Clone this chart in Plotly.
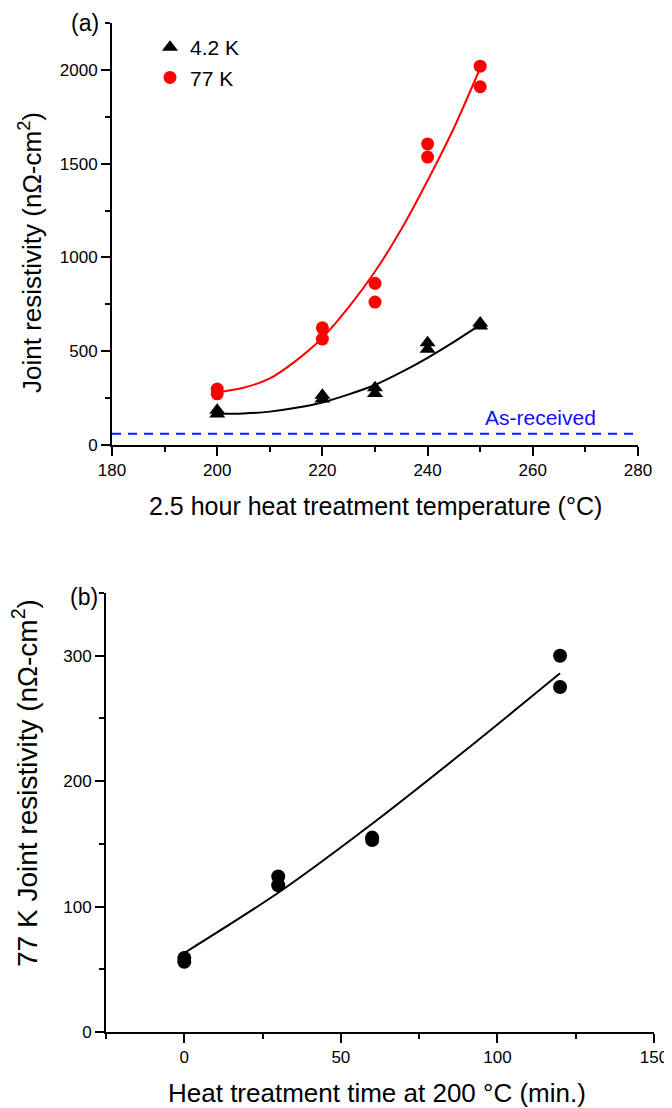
import plotly.graph_objects as go

# ---- Panel (a) data ----
temp_42 = [200, 200, 220, 220, 230, 230, 240, 240, 250, 250]
res_42 = [185, 165, 265, 245, 305, 275, 545, 510, 650, 635]
temp_77 = [200, 200, 220, 220, 230, 230, 240, 240, 250, 250]
res_77 = [298, 273, 625, 565, 862, 762, 1605, 1535, 2020, 1910]

# fitted curves
fit_temp = [200, 205, 210, 215, 220, 225, 230, 235, 240, 245, 250]
fit_42 = [166, 168, 178, 198, 227, 270, 320, 388, 465, 550, 640]
fit_77 = [280, 305, 355, 450, 572, 735, 925, 1150, 1410, 1690, 2010]

as_received_x = [180, 280]
as_received_y = [60, 60]

# ---- Panel (b) data ----
time_min = [0, 0, 30, 30, 60, 60, 120, 120]
res_b = [59, 56, 124, 117, 155, 153, 300, 275]
fit_time = [0, 30, 60, 90, 120]
fit_b = [63, 111, 166, 225, 286]

# page body has an 8px margin: size the figure to the visible area and map
# reference-pixel positions into paper coordinates
OFF = 8
W, H = 672 - OFF, 1108 - OFF
FONT = "Liberation Sans, Arial, sans-serif"


def px(x):
    return (x - OFF) / W


def py(y):
    return 1 - (y - OFF) / H


fig = go.Figure()

# panel (a) fits
fig.add_trace(go.Scatter(x=fit_temp, y=fit_77, mode="lines",
                         line=dict(color="#ff0000", width=2, shape="spline", smoothing=0.8),
                         showlegend=False, xaxis="x", yaxis="y", hoverinfo="skip"))
fig.add_trace(go.Scatter(x=fit_temp, y=fit_42, mode="lines",
                         line=dict(color="black", width=2, shape="spline", smoothing=0.8),
                         showlegend=False, xaxis="x", yaxis="y", hoverinfo="skip"))
fig.add_trace(go.Scatter(x=as_received_x, y=as_received_y, mode="lines",
                         line=dict(color="#1010ff", width=2, dash="9px,7px"),
                         showlegend=False, xaxis="x", yaxis="y", hoverinfo="skip"))
# panel (a) markers
fig.add_trace(go.Scatter(x=temp_42, y=res_42, mode="markers", name="4.2 K",
                         marker=dict(symbol="triangle-up", size=14, color="black"), xaxis="x", yaxis="y"))
fig.add_trace(go.Scatter(x=temp_77, y=res_77, mode="markers", name="77 K",
                         marker=dict(symbol="circle", size=13, color="#ff0000"), xaxis="x", yaxis="y"))

# panel (b)
fig.add_trace(go.Scatter(x=fit_time, y=fit_b, mode="lines",
                         line=dict(color="black", width=2, shape="spline", smoothing=0.8),
                         showlegend=False, xaxis="x2", yaxis="y2", hoverinfo="skip"))
fig.add_trace(go.Scatter(x=time_min, y=res_b, mode="markers", showlegend=False,
                         marker=dict(symbol="circle", size=14, color="black"), xaxis="x2", yaxis="y2"))

axis_common = dict(showline=True, linecolor="black", linewidth=2, showgrid=False, zeroline=False,
                   ticks="outside", ticklen=9, tickwidth=1.5, tickcolor="black",
                   tickfont=dict(family=FONT, size=17, color="black"), mirror=False, automargin=False)


def minor(d):
    return dict(dtick=d, ticks="outside", ticklen=5, tickwidth=1.5, tickcolor="black", showgrid=False)


fig.update_layout(
    width=W, height=H,
    margin=dict(l=0, r=0, t=0, b=0, autoexpand=False),
    paper_bgcolor="white", plot_bgcolor="white",
    font=dict(family=FONT, color="black"),
    xaxis=dict(domain=[px(112), px(638)], range=[180, 280], tick0=180, dtick=20, minor=minor(10),
               anchor="y", **axis_common),
    yaxis=dict(domain=[py(445), py(23)], range=[0, 2250], tick0=0, dtick=500, minor=minor(250),
               anchor="x", **axis_common),
    xaxis2=dict(domain=[px(106), px(654)], range=[-25, 150], tick0=0, dtick=50, minor=minor(25),
                anchor="y2", **axis_common),
    yaxis2=dict(domain=[py(1032), py(593)], range=[0, 350], tick0=0, dtick=100, minor=minor(50),
                anchor="x2", **axis_common),
    legend=dict(x=px(150), y=py(27), xanchor="left", yanchor="top", bgcolor="rgba(0,0,0,0)",
                font=dict(family=FONT, size=21, color="black"), tracegroupgap=0),
    showlegend=True,
)

annotations = [
    dict(text="(a)", x=px(85), y=1.0, yanchor="top", font=dict(size=23)),
    dict(text="(b)", x=px(84), y=py(597), font=dict(size=23)),
    dict(text="2.5 hour heat treatment temperature (°C)", x=px(375), y=py(506), font=dict(size=25)),
    dict(text="Heat treatment time at 200 °C (min.)", x=px(377), y=py(1093), font=dict(size=26)),
    dict(text="Joint resistivity (nΩ-cm<sup>2</sup>)", x=px(31), y=py(253), textangle=-90, font=dict(size=26)),
    dict(text="77 K Joint resistivity (nΩ-cm<sup>2</sup>)", x=px(25), y=py(783), textangle=-90,
         font=dict(size=28)),
    dict(text="As-received", x=px(540), y=py(417), font=dict(size=21, color="#1010ff")),
]
for a in annotations:
    a["xref"] = "paper"
    a["yref"] = "paper"
    a["showarrow"] = False
    a["xanchor"] = "center"
    a.setdefault("yanchor", "middle")
    a["font"] = dict(family=FONT, color=a["font"].get("color", "black"), size=a["font"]["size"])
fig.update_layout(annotations=annotations)

fig.write_html("out.html")
